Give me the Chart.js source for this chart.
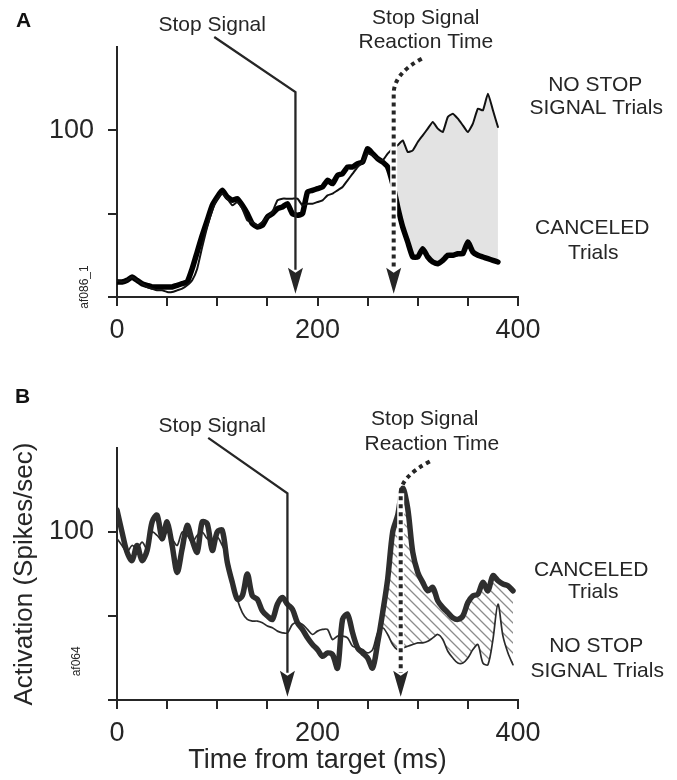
<!DOCTYPE html>
<html><head><meta charset="utf-8">
<script src="https://cdn.jsdelivr.net/npm/chart.js@4.4.1/dist/chart.umd.min.js"></script>
<style>
html,body{margin:0;padding:0;background:#fff;width:677px;height:780px;overflow:hidden}
canvas{position:absolute;left:0}
#cA{top:0}
#cB{top:370px}
</style></head><body>
<canvas id="cA" width="677" height="370"></canvas>
<canvas id="cB" width="677" height="410"></canvas>
<script>
// ---------- DATA ----------
const timeA = [0,5,10,15,20,25,30,35,40,45,50,55,60,65,70,75,80,85,90,95,100,105,110,115,120,125,130,135,140,145,150,155,160,165,170,175,180,185,190,195,200,205,210,215,220,225,230,235,240,245,250,255,260,265,270,275,280,285,290,295,300,305,310,315,320,325,330,335,340,345,350,355,360,365,370,375,380];
const canceledA = [9,9,10,12,10,8,7,6,6,6,6,6,7,8,9,17,27,37,46,55,60,64,60,58,59,55,50,44,42,43,48,50,53,54,56,50,49,50,63,64,65,66,70,68,73,74,78,78,80,81,89,86,83,81,78,68,54,42,33,24,24,29,24,21,20,22,25,25,26,26,33,27,25,24,23,22,21];
const noStopA = [10,9,10,12,10,8,6,5,4,4,3,3,4,5,7,10,17,30,42,52,59,62,59,55,57,53,46,45,43,45,48,51,58,59,59,59,59,55,56,56,57,58,61,62,64,66,70,74,78,81,86,85,83,82,86,89,91,94,87,88,93,97,101,105,101,99,108,110,107,103,99,104,113,112,122,112,102];

const timeB = [0,5,10,15,20,25,30,35,40,45,50,55,60,65,70,75,80,85,90,95,100,105,110,115,120,125,130,135,140,145,150,155,160,165,170,175,180,185,190,195,200,205,210,215,220,225,230,235,240,245,250,255,260,265,270,275,280,285,290,295,300,305,310,315,320,325,330,335,340,345,350,355,360,365,370,375,380,385,390,395];
const canceledB = [113,100,88,83,92,83,89,106,110,96,106,92,76,90,104,95,88,106,105,89,100,101,82,70,60,62,75,62,60,53,50,48,57,61,57,54,46,42,37,33,30,26,28,27,19,48,51,40,31,28,25,19,34,52,72,100,110,126,114,88,76,70,65,67,59,55,52,49,48,50,58,62,63,70,65,74,71,69,68,65];
const noStopB = [96,92,88,92,90,94,90,100,98,95,100,96,92,100,98,94,98,100,96,95,97,92,85,72,60,52,48,47,47,46,44,43,41,40,40,45,46,45,42,39,41,42,42,36,38,38,37,32,31,30,28,30,40,43,39,33,30,31,32,33,34,34,35,37,39,36,29,25,22,22,25,30,33,22,21,36,57,38,28,21];

const xTickValues = [0,50,100,150,200,250,300,350,400];
const xTickLabels = ['0','200','400'];
const yTickValues = [0,50,100];
const yTickLabels = ['100'];

const stopText = ['Stop Signal'];
const ssrtText = ['Stop Signal','Reaction Time'];
const noStopText = ['NO STOP','SIGNAL Trials'];
const canceledText = ['CANCELED','Trials'];
const idA = 'af086_1', idB = 'af064';
const yTitle = 'Activation (Spikes/sec)';
const xTitle = 'Time from target (ms)';

// event times (ms) and annotation anchors in data units
const stopA = 178, ssrtA = 276, fillFromA = 275;
const stopB = 170, ssrtB = 283, fillFromB = 265;

// ---------- STYLE ----------
const FONT = '"Liberation Sans", Arial, Helvetica, sans-serif';
const INK = '#262626';

function pts(times, vals, from){
  return times.map((t,i)=>({x:t,y:vals[i]})).filter(p=>p.x>=from);
}
function hatchPattern(){
  const c = document.createElement('canvas'); c.width = 10; c.height = 10;
  const g = c.getContext('2d');
  g.strokeStyle = '#8c8c8c'; g.lineWidth = 1.3;
  g.beginPath();
  g.moveTo(-1,-1); g.lineTo(11,11);
  g.moveTo(-1,9); g.lineTo(1,11);
  g.moveTo(9,-1); g.lineTo(11,1);
  g.stroke();
  return g.createPattern(c,'repeat');
}

function scales(yMax, xHeight, withTitles){
  return {
    x: {
      type:'linear', min:0, max:400,
      afterFit(s){ s.height = xHeight; },
      afterBuildTicks(s){ s.ticks = xTickValues.map(v=>({value:v})); },
      ticks:{ autoSkip:false, maxRotation:0, padding:8, color:INK,
        font:{family:FONT,size:27},
        callback:(v)=> xTickLabels.includes(String(v)) ? String(v) : '' },
      grid:{ display:true, drawOnChartArea:false, drawTicks:true, tickLength:9, color:INK, lineWidth:2 },
      border:{ display:true, color:INK, width:2 },
      title: withTitles ? { display:true, text:xTitle, color:INK, font:{family:FONT,size:27}, padding:{top:0,bottom:3} } : {display:false}
    },
    y: {
      type:'linear', min:0, max:yMax,
      afterFit(s){ s.width = 117; },
      afterBuildTicks(s){ s.ticks = yTickValues.map(v=>({value:v})); },
      ticks:{ autoSkip:false, padding:14, color:INK,
        font:{family:FONT,size:27},
        callback:(v)=> yTickLabels.includes(String(v)) ? String(v) : '' },
      grid:{ display:true, drawOnChartArea:false, drawTicks:true, tickLength:9, color:INK, lineWidth:2 },
      border:{ display:true, color:INK, width:2 },
      title: withTitles ? { display:true, text:yTitle, color:INK, font:{family:FONT,size:26}, padding:{top:9,bottom:0} } : {display:false}
    }
  };
}

const annotPlugin = {
  id:'annot',
  afterDatasetsDraw(chart, args, o){
    const ctx = chart.ctx, xs = chart.scales.x, ys = chart.scales.y;
    const X = v=>xs.getPixelForValue(v), Y = v=>ys.getPixelForValue(v);
    const tipY = Y(o.tipV), headH = 26, headW = 15;
    ctx.save();
    // Stop signal arrow (solid)
    const sx = X(o.stopT);
    ctx.strokeStyle = INK; ctx.lineWidth = 2.3; ctx.setLineDash([]);
    ctx.beginPath();
    ctx.moveTo(X(o.stopFrom[0]), Y(o.stopFrom[1]));
    ctx.lineTo(sx, Y(o.stopTop));
    ctx.lineTo(sx, tipY - headH + 2);
    ctx.stroke();
    arrowHead(ctx, sx, tipY, headW, headH);
    // SSRT arrow (dotted)
    const rx = X(o.ssrtT), rTop = Y(o.ssrtTop);
    ctx.strokeStyle = '#ffffff'; ctx.lineWidth = 7;
    ctx.beginPath(); ctx.moveTo(rx, rTop); ctx.lineTo(rx, tipY - headH); ctx.stroke();
    ctx.strokeStyle = INK; ctx.lineWidth = 4; ctx.setLineDash([4,4]);
    ctx.beginPath();
    ctx.moveTo(X(o.ssrtTo[0]), Y(o.ssrtTo[1]));
    ctx.quadraticCurveTo(rx, Y(o.ssrtCtrl), rx, rTop);
    ctx.lineTo(rx, tipY - headH + 2);
    ctx.stroke();
    ctx.setLineDash([]);
    arrowHead(ctx, rx, tipY, headW, headH);
    // texts
    ctx.fillStyle = INK; ctx.textAlign = 'center'; ctx.textBaseline = 'middle';
    ctx.font = '21px ' + FONT;
    o.texts.forEach(tx => ctx.fillText(tx.s, X(tx.t), Y(tx.v)));
    // small id label, rotated
    ctx.save();
    ctx.font = '12px ' + FONT;
    ctx.translate(X(o.id.t), Y(o.id.v));
    ctx.rotate(-Math.PI/2);
    ctx.fillText(o.id.s, 0, 0);
    ctx.restore();
    // panel letter
    ctx.font = 'bold 21px ' + FONT;
    ctx.textAlign = 'left'; ctx.textBaseline = 'alphabetic';
    ctx.fillStyle = '#111';
    ctx.fillText(o.letter.s, o.letter.x, o.letter.y);
    ctx.restore();
  }
};
function arrowHead(ctx, x, tip, w, h){
  ctx.fillStyle = INK;
  ctx.beginPath();
  ctx.moveTo(x, tip);
  ctx.lineTo(x - w/2, tip - h);
  ctx.lineTo(x, tip - h + 5);
  ctx.lineTo(x + w/2, tip - h);
  ctx.closePath();
  ctx.fill();
}

const baseOpts = {
  responsive:false, animation:false, devicePixelRatio:1,
  plugins:{ legend:{display:false}, tooltip:{enabled:false} },
  elements:{ point:{radius:0}, line:{borderCapStyle:'round', borderJoinStyle:'round'} }
};

// ---------- PANEL A ----------
new Chart(document.getElementById('cA'), {
  type:'line',
  data:{ datasets:[
    { label:'NO STOP SIGNAL Trials', data:pts(timeA,noStopA,0), borderColor:'#111', borderWidth:2, tension:0.15, fill:false, order:0 },
    { label:'CANCELED Trials', data:pts(timeA,canceledA,0), borderColor:'#000', borderWidth:5.5, tension:0.15, fill:false, order:1 },
    { label:'fill top', data:pts(timeA,noStopA,fillFromA), borderColor:'rgba(0,0,0,0)', borderWidth:1, backgroundColor:'#e3e3e3', tension:0.15, fill:{target:3}, order:5 },
    { label:'fill bottom', data:pts(timeA,canceledA,fillFromA), borderColor:'rgba(0,0,0,0)', borderWidth:1, tension:0.15, fill:false, order:6 }
  ]},
  options: Object.assign({}, baseOpts, {
    layout:{ padding:{ left:0, right:159, top:47, bottom:0 } },
    scales: scales(150, 73, false),
    plugins: Object.assign({}, baseOpts.plugins, { annot:{
      stopT:stopA, stopTop:123, stopFrom:[97,156],
      ssrtT:ssrtA, ssrtTop:122, ssrtCtrl:134, ssrtTo:[304,143],
      tipV:2,
      texts:[
        {s:stopText[0], t:95, v:163},
        {s:ssrtText[0], t:308, v:167},
        {s:ssrtText[1], t:308, v:153},
        {s:noStopText[0], t:477, v:127},
        {s:noStopText[1], t:478, v:113},
        {s:canceledText[0], t:474, v:41},
        {s:canceledText[1], t:475, v:26}
      ],
      id:{s:idA, t:-32, v:6},
      letter:{s:'A', x:16, y:27}
    }})
  }),
  plugins:[annotPlugin]
});

// ---------- PANEL B ----------
const hatch = hatchPattern();
new Chart(document.getElementById('cB'), {
  type:'line',
  data:{ datasets:[
    { label:'NO STOP SIGNAL Trials', data:pts(timeB,noStopB,0), borderColor:'#2b2b2b', borderWidth:1.7, tension:0.3, fill:false, order:0 },
    { label:'CANCELED Trials', data:pts(timeB,canceledB,0), borderColor:'#2e2e2e', borderWidth:5.5, tension:0.3, fill:false, order:1 },
    { label:'hatch top', data:pts(timeB,canceledB,fillFromB), borderColor:'rgba(0,0,0,0)', borderWidth:1, backgroundColor:hatch, tension:0.3, fill:{target:3}, order:5 },
    { label:'hatch bottom', data:pts(timeB,noStopB,fillFromB), borderColor:'rgba(0,0,0,0)', borderWidth:1, tension:0.3, fill:false, order:6 }
  ]},
  options: Object.assign({}, baseOpts, {
    layout:{ padding:{ left:0, right:159, top:78, bottom:0 } },
    scales: scales(150, 80, true),
    plugins: Object.assign({}, baseOpts.plugins, { annot:{
      stopT:stopB, stopTop:123, stopFrom:[91,156],
      ssrtT:ssrtB, ssrtTop:123, ssrtCtrl:133, ssrtTo:[312,142],
      tipV:2,
      texts:[
        {s:stopText[0], t:95, v:163},
        {s:ssrtText[0], t:307, v:167},
        {s:ssrtText[1], t:314, v:152},
        {s:canceledText[0], t:473, v:77},
        {s:canceledText[1], t:475, v:64},
        {s:noStopText[0], t:478, v:32},
        {s:noStopText[1], t:479, v:17}
      ],
      id:{s:idB, t:-40, v:23},
      letter:{s:'B', x:15, y:33}
    }})
  }),
  plugins:[annotPlugin]
});
</script>
</body></html>
